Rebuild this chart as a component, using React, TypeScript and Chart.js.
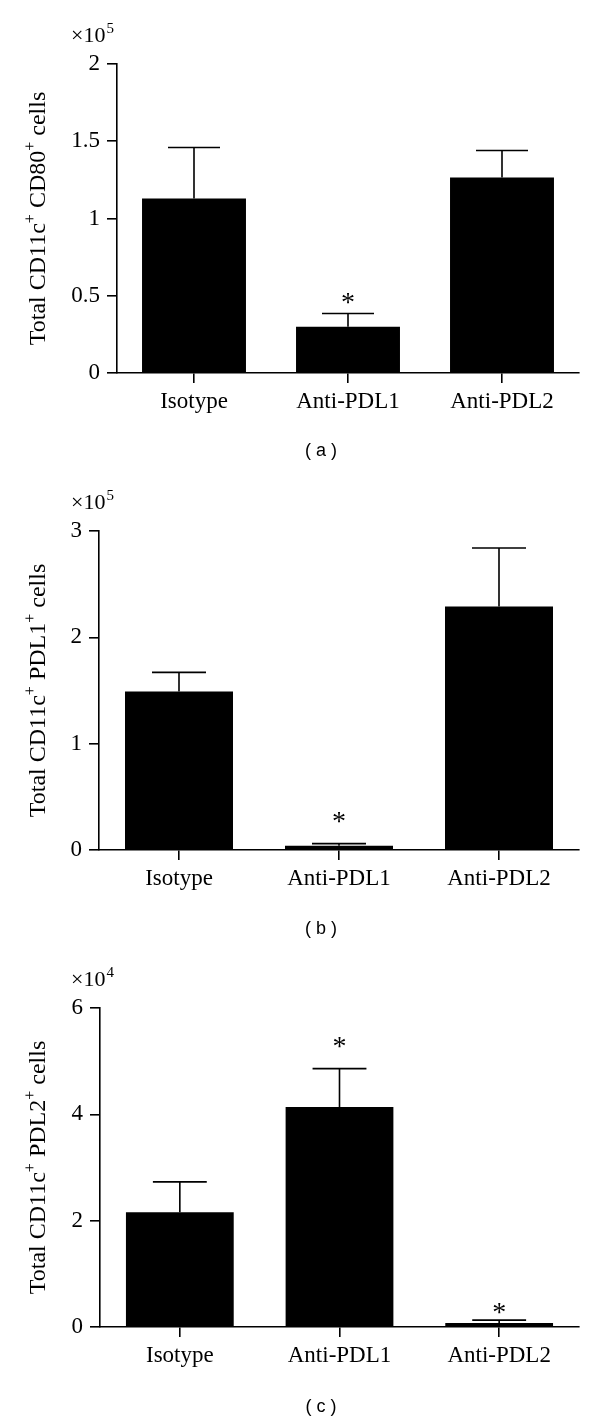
import React, { useEffect, useRef } from 'react';
import { Chart, registerables } from 'chart.js';

Chart.register(...registerables);

const categories = ['Isotype', 'Anti-PDL1', 'Anti-PDL2'];

// Panel (a): CD11c+ CD80+ cells (x10^5)
const cd80Means = [1.13, 0.3, 1.265];
const cd80ErrTop = [1.46, 0.385, 1.44];
const cd80Stars = [null, 0.49, null];
const cd80Ticks = [0, 0.5, 1, 1.5, 2];

// Panel (b): CD11c+ PDL1+ cells (x10^5)
const pdl1Means = [1.49, 0.04, 2.29];
const pdl1ErrTop = [1.67, 0.06, 2.84];
const pdl1Stars = [null, 0.31, null];
const pdl1Ticks = [0, 1, 2, 3];

// Panel (c): CD11c+ PDL2+ cells (x10^4)
const pdl2Means = [2.16, 4.14, 0.075];
const pdl2ErrTop = [2.73, 4.86, 0.13];
const pdl2Stars = [null, 5.36, 0.37];
const pdl2Ticks = [0, 2, 4, 6];

const SERIF = '"Liberation Serif", "Times New Roman", serif';
const SANS = '"Liberation Sans", Arial, sans-serif';

type Seg = { t: string; sup?: boolean };

type Panel = {
  height: number;
  left: number;
  top: number;
  bottom: number;
  means: number[];
  errTop: number[];
  stars: (number | null)[];
  ticks: number[];
  exponent: string;
  caption: string;
  title: Seg[];
};

const X_H = 60;

const panels: Panel[] = [
  {
    height: 478, left: 117, top: 64, bottom: 373,
    means: cd80Means, errTop: cd80ErrTop, stars: cd80Stars, ticks: cd80Ticks,
    exponent: '5', caption: '( a )',
    title: [{ t: 'Total CD11c' }, { t: '+', sup: true }, { t: ' CD80' }, { t: '+', sup: true }, { t: ' cells' }],
  },
  {
    height: 478, left: 99, top: 53, bottom: 372,
    means: pdl1Means, errTop: pdl1ErrTop, stars: pdl1Stars, ticks: pdl1Ticks,
    exponent: '5', caption: '( b )',
    title: [{ t: 'Total CD11c' }, { t: '+', sup: true }, { t: ' PDL1' }, { t: '+', sup: true }, { t: ' cells' }],
  },
  {
    height: 463, left: 100, top: 52, bottom: 371,
    means: pdl2Means, errTop: pdl2ErrTop, stars: pdl2Stars, ticks: pdl2Ticks,
    exponent: '4', caption: '( c )',
    title: [{ t: 'Total CD11c' }, { t: '+', sup: true }, { t: ' PDL2' }, { t: '+', sup: true }, { t: ' cells' }],
  },
];

const TITLE_SIZE = 24;
const SUP_SIZE = 16;

function drawRich(ctx: CanvasRenderingContext2D, segs: Seg[], size: number, supSize: number) {
  let total = 0;
  for (const s of segs) {
    ctx.font = `${s.sup ? supSize : size}px ${SERIF}`;
    total += ctx.measureText(s.t).width;
  }
  let x = -total / 2;
  ctx.textAlign = 'left';
  ctx.textBaseline = 'alphabetic';
  for (const s of segs) {
    ctx.font = `${s.sup ? supSize : size}px ${SERIF}`;
    ctx.fillText(s.t, x, s.sup ? -size * 0.42 + size * 0.35 : size * 0.35);
    x += ctx.measureText(s.t).width;
  }
}

function PanelChart({ p }: { p: Panel }) {
  const ref = useRef<HTMLCanvasElement | null>(null);
  useEffect(() => {
    if (!ref.current) return;
    const extras = {
      id: 'extras',
      afterDatasetsDraw(chart: any) {
        const ctx = chart.ctx as CanvasRenderingContext2D;
        const y = chart.scales.y;
        const meta = chart.getDatasetMeta(0);
        ctx.save();
        ctx.strokeStyle = '#000';
        ctx.fillStyle = '#000';
        ctx.lineWidth = 1.6;
        meta.data.forEach((bar: any, i: number) => {
          const x = bar.x;
          const yb = bar.y;
          const ye = y.getPixelForValue(p.errTop[i]);
          const hw = bar.width / 4;
          ctx.beginPath();
          ctx.moveTo(x, yb);
          ctx.lineTo(x, ye);
          ctx.moveTo(x - hw, ye);
          ctx.lineTo(x + hw, ye);
          ctx.stroke();
          const s = p.stars[i];
          if (s !== null && s !== undefined) {
            const sy = y.getPixelForValue(s);
            ctx.font = `28px ${SERIF}`;
            ctx.textAlign = 'center';
            ctx.textBaseline = 'alphabetic';
            ctx.fillText('*', x, sy + 28 * 0.48);
          }
        });
        ctx.restore();
      },
      afterDraw(chart: any) {
        const ctx = chart.ctx as CanvasRenderingContext2D;
        const area = chart.chartArea;
        ctx.save();
        ctx.fillStyle = '#000';
        // y title
        ctx.save();
        ctx.translate(37, (area.top + area.bottom) / 2);
        ctx.rotate(-Math.PI / 2);
        drawRich(ctx, p.title, TITLE_SIZE, SUP_SIZE);
        ctx.restore();
        // exponent
        ctx.textAlign = 'left';
        ctx.textBaseline = 'alphabetic';
        ctx.font = `22px ${SERIF}`;
        const base = '\u00d710';
        const by = area.top - 22;
        ctx.fillText(base, 71, by);
        const w = ctx.measureText(base).width;
        ctx.font = `15px ${SERIF}`;
        ctx.fillText(p.exponent, 71 + w + 1, by - 9);
        // caption
        ctx.font = `18px ${SANS}`;
        ctx.textAlign = 'center';
        ctx.textBaseline = 'middle';
        ctx.fillText(p.caption, 321, 451);
        ctx.restore();
      },
    };
    const chart = new Chart(ref.current, {
      type: 'bar',
      data: {
        labels: categories,
        datasets: [
          {
            data: p.means,
            backgroundColor: '#000',
            borderWidth: 0,
            barPercentage: 0.675,
            categoryPercentage: 1,
          },
        ],
      },
      options: {
        responsive: false,
        animation: false,
        events: [],
        layout: {
          padding: { left: 0, right: 21, top: p.top, bottom: p.height - p.bottom - X_H },
        },
        plugins: { legend: { display: false }, tooltip: { enabled: false } },
        scales: {
          x: {
            type: 'category',
            offset: true,
            grid: { offset: false, drawOnChartArea: false, drawTicks: true, tickLength: 10, color: '#000', lineWidth: 1.6 },
            border: { display: true, color: '#000', width: 1.6 },
            ticks: { color: '#000', font: { family: SERIF, size: 23 }, padding: 5, maxRotation: 0, autoSkip: false },
            afterFit: (s: any) => { s.height = X_H; },
          },
          y: {
            type: 'linear',
            min: 0,
            max: p.ticks[p.ticks.length - 1],
            afterBuildTicks: (s: any) => { s.ticks = p.ticks.map((v) => ({ value: v })); },
            grid: { drawOnChartArea: false, drawTicks: true, tickLength: 10, color: '#000', lineWidth: 1.6 },
            border: { display: true, color: '#000', width: 1.6 },
            ticks: { color: '#000', font: { family: SERIF, size: 23 }, padding: 7, callback: (v: any) => String(v) },
            afterFit: (s: any) => { s.width = p.left; },
          },
        },
      },
      plugins: [extras],
    } as any);
    return () => chart.destroy();
  }, [p]);
  return <canvas ref={ref} width={600} height={p.height} style={{ display: 'block', width: 600, height: p.height }} />;
}

export default function App() {
  return (
    <div style={{ position: 'absolute', left: 0, top: 0, width: 600, height: 1419, background: '#fff' }}>
      {panels.map((p, i) => (
        <PanelChart key={i} p={p} />
      ))}
    </div>
  );
}
